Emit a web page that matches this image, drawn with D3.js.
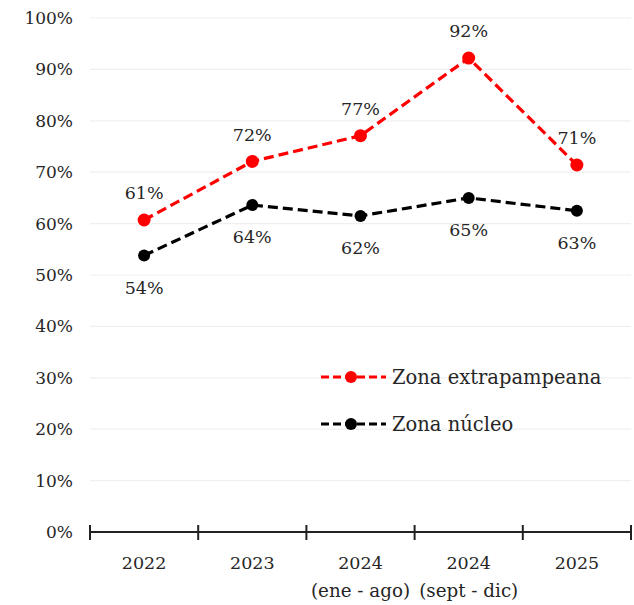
<!DOCTYPE html>
<html>
<head>
<meta charset="utf-8">
<script src="https://cdn.jsdelivr.net/npm/d3@7"></script>
<style>
  body { margin: 0; background: #fff; }
  text { font-family: "DejaVu Serif", "Liberation Serif", serif; fill: #262626; }
</style>
</head>
<body>
<svg id="chart" width="634" height="605"></svg>
<script>
// categories (two-line labels)
var categories = ["2022", "2023", "2024a", "2024b", "2025"];
var catLine1 = ["2022", "2023", "2024", "2024", "2025"];
var catLine2 = ["", "", "(ene - ago)", "(sept - dic)", ""];

// series values (%)
var extrapampeana = [60.7, 72.1, 77.1, 92.2, 71.4];
var nucleo = [53.8, 63.6, 61.5, 65.0, 62.5];

var yTicks = [0, 10, 20, 30, 40, 50, 60, 70, 80, 90, 100];

var svg = d3.select("#chart");
var margin = {left: 90, right: 3, top: 18, bottom: 73};
var width = +svg.attr("width"), height = +svg.attr("height");

var x = d3.scaleBand().domain(categories)
    .range([margin.left, width - margin.right]);
var y = d3.scaleLinear().domain([0, 100])
    .range([height - margin.bottom, margin.top]);

// gridlines
svg.append("g").selectAll("line")
    .data(yTicks.filter(function(d) { return d > 0; }))
    .enter().append("line")
    .attr("x1", margin.left).attr("x2", width - margin.right)
    .attr("y1", function(d) { return y(d); })
    .attr("y2", function(d) { return y(d); })
    .attr("stroke", "#efefef").attr("stroke-width", 1.2);

// y labels
svg.append("g").selectAll("text")
    .data(yTicks)
    .enter().append("text")
    .attr("x", 73)
    .attr("y", function(d) { return y(d); })
    .attr("dy", "0.35em")
    .attr("text-anchor", "end")
    .attr("font-size", 17)
    .text(function(d) { return d + "%"; });

// x axis
var xAxis = svg.append("g")
    .attr("transform", "translate(0," + y(0) + ")");
xAxis.append("line")
    .attr("x1", margin.left).attr("x2", width - margin.right)
    .attr("stroke", "#222").attr("stroke-width", 2);
var bounds = categories.map(function(c) { return x(c); });
bounds.push(x(categories[categories.length - 1]) + x.bandwidth());
xAxis.selectAll(".tick")
    .data(bounds)
    .enter().append("line")
    .attr("x1", function(d) { return d; })
    .attr("x2", function(d) { return d; })
    .attr("y1", -7).attr("y2", 8)
    .attr("stroke", "#222").attr("stroke-width", 2);

var xl = svg.append("g").selectAll("g")
    .data(categories)
    .enter().append("g")
    .attr("transform", function(d) {
        return "translate(" + (x(d) + x.bandwidth() / 2) + "," + (y(0) + 37) + ")";
    });
xl.append("text").attr("text-anchor", "middle").attr("font-size", 17.5)
    .text(function(d, i) { return catLine1[i]; });
xl.append("text").attr("text-anchor", "middle").attr("font-size", 18.3)
    .attr("y", 28)
    .text(function(d, i) { return catLine2[i]; });

function cx(i) { return x(categories[i]) + x.bandwidth() / 2; }

function drawSeries(vals, color, labelDy, r) {
    var line = d3.line()
        .x(function(d, i) { return cx(i); })
        .y(function(d) { return y(d); });
    svg.append("path")
        .datum(vals)
        .attr("d", line)
        .attr("fill", "none")
        .attr("stroke", color)
        .attr("stroke-width", 3.2)
        .attr("stroke-dasharray", "10,5");
    svg.append("g").selectAll("circle")
        .data(vals)
        .enter().append("circle")
        .attr("cx", function(d, i) { return cx(i); })
        .attr("cy", function(d) { return y(d); })
        .attr("r", r)
        .attr("fill", color);
    svg.append("g").selectAll("text")
        .data(vals)
        .enter().append("text")
        .attr("x", function(d, i) { return cx(i); })
        .attr("y", function(d) { return y(d) + labelDy; })
        .attr("dy", "0.35em")
        .attr("text-anchor", "middle")
        .attr("font-size", 17.5)
        .text(function(d) { return Math.round(d) + "%"; });
}

drawSeries(extrapampeana, "#ff0000", -27, 6.5);
drawSeries(nucleo, "#000000", 32, 6);

// legend
var legend = [
    {name: "Zona extrapampeana", color: "#ff0000", y: 377},
    {name: "Zona núcleo", color: "#000000", y: 424}
];
var lg = svg.append("g").selectAll("g")
    .data(legend)
    .enter().append("g")
    .attr("transform", function(d) { return "translate(0," + d.y + ")"; });
lg.append("line")
    .attr("x1", 321).attr("x2", 386)
    .attr("stroke", function(d) { return d.color; })
    .attr("stroke-width", 3.2)
    .attr("stroke-dasharray", "8,4");
lg.append("circle")
    .attr("cx", 351).attr("r", 6)
    .attr("fill", function(d) { return d.color; });
lg.append("text")
    .attr("x", 392).attr("dy", "0.35em")
    .attr("font-size", 19.5)
    .text(function(d) { return d.name; });
</script>
</body>
</html>
